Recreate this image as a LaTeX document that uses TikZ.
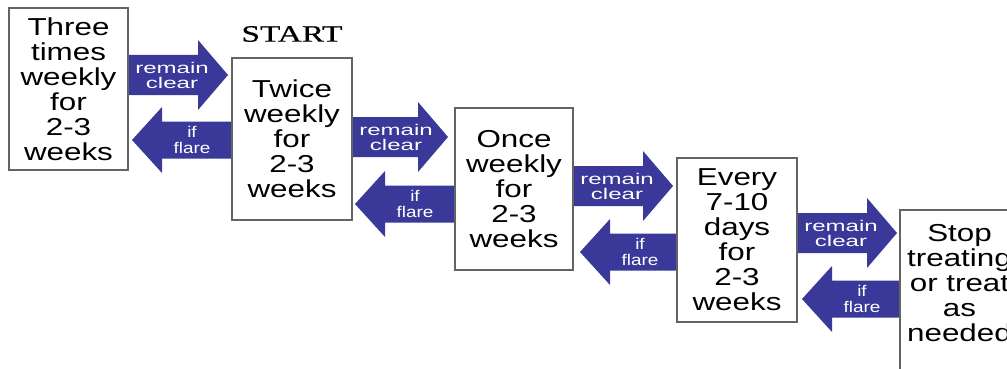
\documentclass[tikz,border=0pt]{standalone}
\usepackage{fontspec}
\setmainfont{Liberation Sans}
\newfontfamily\boxfont[FakeStretch=1.28]{Liberation Sans}
\newfontfamily\rcfont[FakeStretch=1.55]{Liberation Sans}
\newfontfamily\iffont[FakeStretch=1.22]{Liberation Sans}
\newfontfamily\startfont[FakeStretch=1.42,FakeBold=0.6]{Liberation Serif}
\definecolor{arrowblue}{RGB}{58,56,152}
\definecolor{boxgray}{RGB}{100,100,100}
\tikzset{
  stepbox/.style={draw=boxgray, line width=1.5pt, fill=white, inner sep=0pt,
    align=center, font=\fontsize{24.5}{25}\boxfont},
  rctext/.style={text=white, align=center, inner sep=0pt, font=\fontsize{15.5}{15}\rcfont},
  iftext/.style={text=white, align=center, inner sep=0pt, font=\fontsize{15.5}{15.5}\iffont},
  steptext/.style={align=center, inner sep=0pt, font=\fontsize{24.5}{25}\boxfont},
}
% right arrow: #1 start x, #2 tip x, #3 centre y
\newcommand\RArrowShape[3]{%
  \fill[arrowblue] (#1,#3-20) -- (#2-30,#3-20) -- (#2-30,#3-35) -- (#2,#3)
    -- (#2-30,#3+35) -- (#2-30,#3+20) -- (#1,#3+20) -- cycle;}
% left arrow: #1 tip x, #2 end x, #3 centre y
\newcommand\LArrowShape[3]{%
  \fill[arrowblue] (#2,#3-18.5) -- (#1+30,#3-18.5) -- (#1+30,#3-33) -- (#1,#3)
    -- (#1+30,#3+33) -- (#1+30,#3+18.5) -- (#2,#3+18.5) -- cycle;}
\begin{document}
\begin{tikzpicture}[x=1pt,y=-1pt]
\useasboundingbox (0,0) rectangle (1007,369);
\clip (0,0) rectangle (1007,369);
\fill[white] (0,0) rectangle (1007,369);

% arrows
\RArrowShape{128}{228}{75}
\RArrowShape{352}{448}{137}
\RArrowShape{573}{673}{186}
\RArrowShape{797}{897}{233}
\LArrowShape{132}{232}{140}
\LArrowShape{355}{455}{204}
\LArrowShape{580}{677}{252}
\LArrowShape{802}{900}{299}

% boxes
\node[stepbox, minimum width=119pt, minimum height=162pt] (b1) at (68.5,89)
  {Three\\times\\weekly\\for\\2-3\\weeks};
\node[stepbox, minimum width=120pt, minimum height=162pt] (b2) at (292,139)
  {Twice\\weekly\\for\\2-3\\weeks};
\node[stepbox, minimum width=118pt, minimum height=162pt] (b3) at (514,189)
  {Once\\weekly\\for\\2-3\\weeks};
\node[stepbox, minimum width=120pt, minimum height=164pt] (b4) at (737,240)
  {Every\\7-10\\days\\for\\2-3\\weeks};
\node[stepbox, minimum width=119pt, minimum height=180pt] (b5) at (959.5,300) {};
\node[steptext] (b5t) at (959.5,283) {Stop\\treating\\or treat\\as\\needed};

% START
\node[inner sep=0pt, font=\fontsize{23.5}{22}\startfont] (start) at (292,34) {START};

% arrow labels
\node[rctext] (r1) at (172,75) {remain\\clear};
\node[rctext] (r2) at (396,137) {remain\\clear};
\node[rctext] (r3) at (617,186) {remain\\clear};
\node[rctext] (r4) at (841,233) {remain\\clear};
\node[iftext] (l1) at (192,140) {if\\flare};
\node[iftext] (l2) at (415,204) {if\\flare};
\node[iftext] (l3) at (640,252) {if\\flare};
\node[iftext] (l4) at (862,299) {if\\flare};
\end{tikzpicture}
\end{document}
